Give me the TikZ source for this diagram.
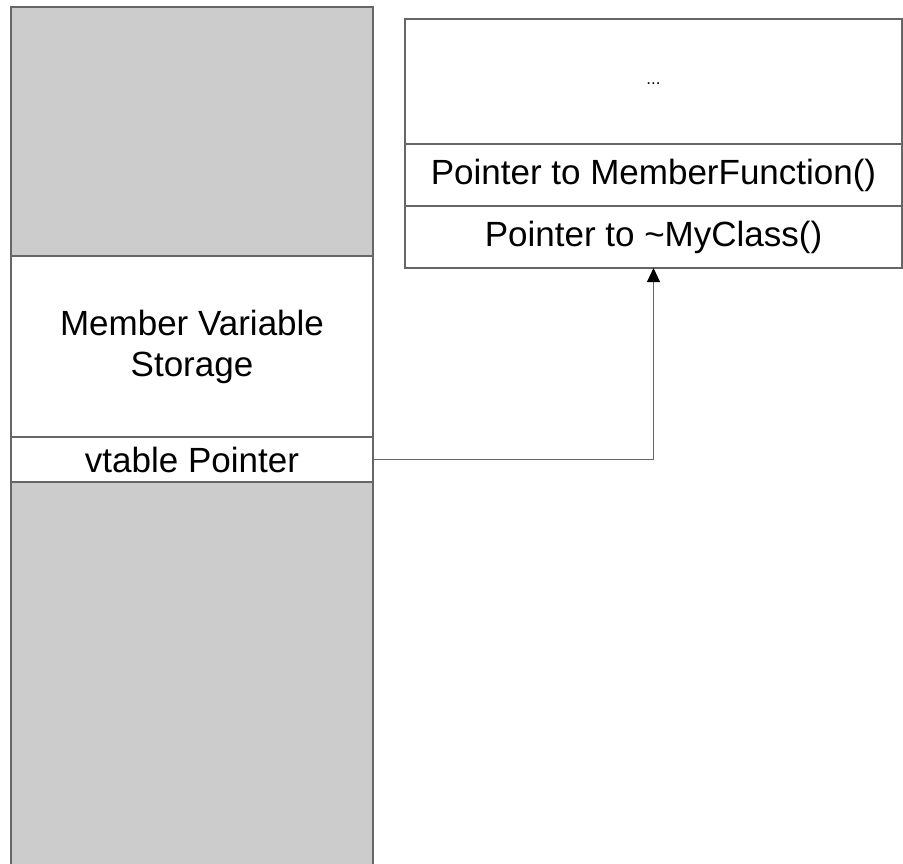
\documentclass[tikz,border=0pt]{standalone}
\usepackage{fontspec}
\setmainfont{Liberation Sans}
\usetikzlibrary{arrows.meta}
\definecolor{cellgray}{HTML}{CCCCCC}
\definecolor{edgegray}{HTML}{666666}
\begin{document}
\begin{tikzpicture}[x=1pt,y=-1pt,
  cell/.style={draw=edgegray,line width=1.1pt,rectangle,inner sep=0pt,outer sep=0pt,
    font=\fontsize{35}{41}\selectfont,align=center,text=black},
  grayfill/.style={cell,fill=cellgray},
  whitefill/.style={cell,fill=white},
  conn/.style={draw=edgegray,line width=1pt,-{Triangle[width=13pt,length=14pt,color=black]}}]
\useasboundingbox (0,0) rectangle (903,863);
\clip (0,0) rectangle (903,863);
% left column
\node[grayfill,minimum width=362pt,minimum height=249pt] (topgray) at (192,131.5) {};
\node[whitefill,minimum width=362pt,minimum height=181pt] (storage) at (192,346.5) {Member Variable\\Storage};
\node[whitefill,minimum width=362pt,minimum height=45pt] (vptr) at (192,459.5) {vtable Pointer};
\node[grayfill,minimum width=362pt,minimum height=390pt] (botgray) at (192,677) {};
% vtable
\node[whitefill,minimum width=497pt,minimum height=125pt] (dots) at (653.5,81.5) {};
\node[font=\fontsize{17}{20}\selectfont,inner sep=0pt] (dotstext) at (653.5,84) {...};
\node[whitefill,minimum width=497pt,minimum height=62pt] (mf) at (653.5,175) {Pointer to MemberFunction()};
\node[whitefill,minimum width=497pt,minimum height=62pt] (dtor) at (653.5,237) {Pointer to \textasciitilde MyClass()};
% connector
\draw[conn] (vptr.east) -| (dtor.south);
\end{tikzpicture}
\end{document}
